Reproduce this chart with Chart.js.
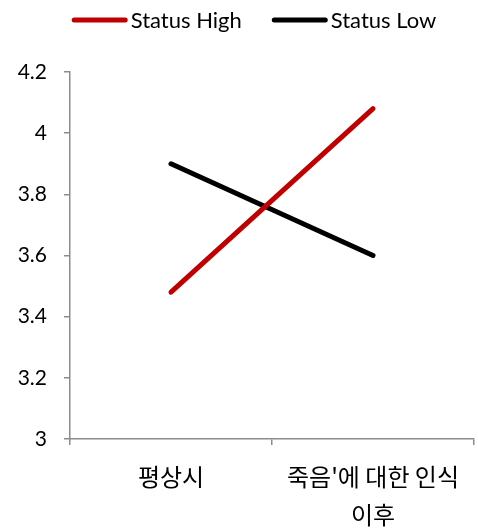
<!DOCTYPE html>
<html>
<head>
<meta charset="utf-8">
<script src="https://cdn.jsdelivr.net/npm/chart.js@4/dist/chart.umd.min.js"></script>
<style>
  html, body { margin: 0; padding: 0; background: #ffffff; }
  #wrap { width: 478px; height: 531px; }
</style>
</head>
<body>
<div id="wrap"><canvas id="c" width="478" height="531"></canvas></div>
<script>
// Category labels (the second one wraps onto two lines)
const categories = ["평상시", ["죽음'에 대한 인식", "이후"]];
// Mean scores per group
const statusHigh = [3.48, 4.08];
const statusLow = [3.9, 3.6];
// Y axis range
const yMin = 3;
const yMax = 4.2;
const yStep = 0.2;

const LATIN_FONT = "Lato, 'Noto Sans CJK KR', sans-serif";
const KOREAN_FONT = "'Noto Sans CJK KR', sans-serif";
const AXIS_GREY = '#8c8c8c';

// Compact legend row: a short thick line swatch followed closely by the series name
const lineLegend = {
  id: 'lineLegend',
  afterDraw(chart) {
    const ctx = chart.ctx;
    const swatch = 56, gapText = 3, gapItem = 30, fontSize = 22;
    const centerX = 254, centerY = 20;
    ctx.save();
    ctx.font = fontSize + 'px ' + LATIN_FONT;
    const items = chart.data.datasets.map(ds => ({
      label: ds.label, color: ds.borderColor, width: ctx.measureText(ds.label).width
    }));
    let total = 0;
    items.forEach((it, i) => {
      total += swatch + gapText + it.width + (i < items.length - 1 ? gapItem : 0);
    });
    let x = centerX - total / 2;
    ctx.textBaseline = 'middle';
    ctx.textAlign = 'left';
    items.forEach(it => {
      ctx.strokeStyle = it.color;
      ctx.lineWidth = 5;
      ctx.lineCap = 'round';
      ctx.beginPath();
      ctx.moveTo(x + 2.5, centerY);
      ctx.lineTo(x + swatch - 2.5, centerY);
      ctx.stroke();
      ctx.fillStyle = '#000000';
      ctx.fillText(it.label, x + swatch + gapText, centerY + 1);
      x += swatch + gapText + it.width + gapItem;
    });
    ctx.restore();
  }
};

new Chart(document.getElementById('c'), {
  type: 'line',
  data: {
    labels: categories,
    datasets: [
      {
        label: 'Status High',
        data: statusHigh,
        borderColor: '#c00000',
        backgroundColor: '#c00000',
        borderWidth: 5,
        borderCapStyle: 'round',
        pointRadius: 0,
        pointHoverRadius: 0,
        tension: 0
      },
      {
        label: 'Status Low',
        data: statusLow,
        borderColor: '#000000',
        backgroundColor: '#000000',
        borderWidth: 5,
        borderCapStyle: 'round',
        pointRadius: 0,
        pointHoverRadius: 0,
        tension: 0
      }
    ]
  },
  plugins: [lineLegend],
  options: {
    responsive: false,
    animation: false,
    layout: { padding: { top: 72, right: 4, left: 0, bottom: 0 } },
    plugins: {
      tooltip: { enabled: false },
      legend: { display: false }
    },
    scales: {
      x: {
        type: 'category',
        offset: true,
        border: { display: true, color: AXIS_GREY, width: 1.5 },
        grid: {
          display: true,
          drawOnChartArea: false,
          drawTicks: true,
          tickLength: 6,
          color: AXIS_GREY,
          lineWidth: 1.5,
          offset: true
        },
        ticks: {
          color: '#000000',
          maxRotation: 0,
          autoSkip: false,
          padding: 12,
          font: { family: KOREAN_FONT, size: 24, lineHeight: 1.62 }
        },
        afterFit: (s) => { s.height = 92; }
      },
      y: {
        min: yMin,
        max: yMax,
        border: { display: true, color: AXIS_GREY, width: 1.5 },
        grid: {
          display: true,
          drawOnChartArea: false,
          drawTicks: true,
          tickLength: 6,
          color: AXIS_GREY,
          lineWidth: 1.5
        },
        ticks: {
          stepSize: yStep,
          color: '#000000',
          padding: 17,
          font: { family: LATIN_FONT, size: 21 },
          callback: (v) => String(Number(v.toFixed(1)))
        },
        afterFit: (s) => { s.width = 70; }
      }
    }
  }
});
</script>
</body>
</html>
